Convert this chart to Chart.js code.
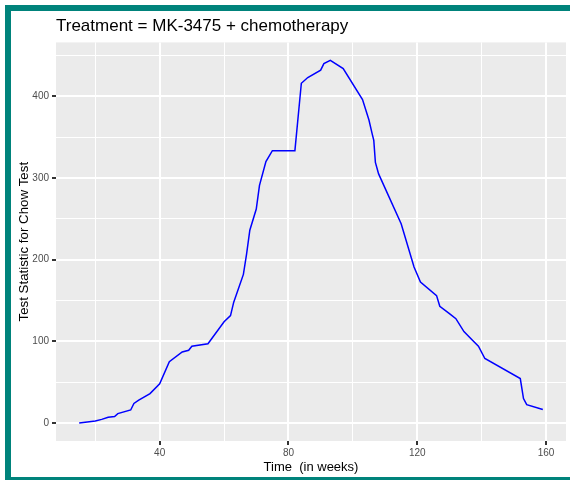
<!DOCTYPE html>
<html>
<head>
<meta charset="utf-8">
<script src="https://cdn.jsdelivr.net/npm/chart.js@4"></script>
<style>
  body { margin: 0; background: #ffffff; overflow: hidden; }
  #frame {
    position: absolute; left: 5px; top: 5px; width: 600px; height: 466px;
    border-left: 6px solid #00837b; border-top: 6px solid #00837b; border-bottom: 3px solid #00837b;
  }
  #wrap { position: absolute; left: 0; top: 0; width: 570px; height: 481px; }
</style>
</head>
<body>
<div id="frame"></div>
<div id="wrap"><canvas id="chowChart" width="570" height="481"></canvas></div>
<script>
// data
const weeks = [15, 20, 22, 24, 26, 27, 31, 32, 33.5, 37, 40, 43, 47, 49, 50, 55, 60, 62, 63, 66, 67, 68, 70, 71, 73, 75,
  82, 84, 86, 90, 91, 93, 97, 103, 105, 106, 106.5, 107, 108, 115, 119, 121, 126, 127, 130, 132, 134.5, 137, 139, 141,
  152, 153, 154, 159];
const chowStat = [0, 2.5, 4.5, 7, 8, 11.5, 16, 24, 28, 36, 48, 75, 87, 89, 94, 97, 124, 131.5, 148, 182, 207, 236, 262, 291, 320, 333.5,
  333.5, 416, 423, 432, 440, 444, 434, 396, 371, 354, 346, 319, 305, 244, 191, 172.5, 156, 143, 134, 127.7, 112, 102, 94, 79,
  54.5, 30, 22.5, 16.5];
const xTicks = [20, 40, 60, 80, 100, 120, 140, 160];
const xLabels = [40, 80, 120, 160];
const yTicks = [0, 50, 100, 150, 200, 250, 300, 350, 400, 450];
const yLabels = [0, 100, 200, 300, 400];

// grey panel behind the plot
const panelBg = {
  id: "panelBg",
  beforeDraw(chart) {
    const a = chart.chartArea;
    const ctx = chart.ctx;
    ctx.save();
    ctx.fillStyle = "#ebebeb";
    ctx.fillRect(a.left, a.top, a.right - a.left, a.bottom - a.top);
    ctx.restore();
  }
};

function createChowChart() {
  const ctx = document.getElementById("chowChart").getContext("2d");

  const data = {
    datasets: [
      {
        data: weeks.map((w, i) => ({ x: w, y: chowStat[i] })),
        borderColor: "#0000ff",
        borderWidth: 1.5,
        pointRadius: 0,
        tension: 0,
        fill: false,
      },
    ],
  };

  const config = {
    type: "line",
    data: data,
    plugins: [panelBg],
    options: {
      responsive: false,
      animation: false,
      layout: { padding: { left: 0, right: 4, top: 0, bottom: 0 } },
      plugins: {
        legend: { display: false },
        tooltip: { enabled: false },
        title: {
          display: true,
          text: "Treatment = MK-3475 + chemotherapy",
          align: "start",
          fullSize: false,
          color: "#000000",
          font: { family: "Liberation Sans", size: 17, weight: "normal" },
          padding: { top: 16, bottom: 6 },
        },
      },
      scales: {
        x: {
          type: "linear",
          min: 7.8,
          max: 166.2,
          afterBuildTicks: (axis) => { axis.ticks = xTicks.map((v) => ({ value: v })); },
          afterFit: (axis) => { axis.height = 40; },
          border: { display: false },
          grid: {
            color: "#ffffff",
            lineWidth: (c) => (xLabels.includes(c.tick.value) ? 2 : 1),
            tickColor: (c) => (xLabels.includes(c.tick.value) ? "#333333" : "rgba(0,0,0,0)"),
            tickLength: 4,
          },
          ticks: {
            autoSkip: false,
            maxRotation: 0,
            color: "#4d4d4d",
            font: { family: "Liberation Sans", size: 10 },
            padding: 2,
            callback: (v) => (xLabels.includes(v) ? String(v) : ""),
          },
          title: {
            display: true,
            text: "Time  (in weeks)",
            color: "#000000",
            font: { family: "Liberation Sans", size: 13 },
            padding: { top: 0, bottom: 6 },
          },
        },
        y: {
          type: "linear",
          min: -22,
          max: 466,
          afterBuildTicks: (axis) => { axis.ticks = yTicks.map((v) => ({ value: v })); },
          afterFit: (axis) => { axis.width = 56; },
          border: { display: false },
          grid: {
            color: "#ffffff",
            lineWidth: (c) => (yLabels.includes(c.tick.value) ? 2 : 1),
            tickColor: (c) => (yLabels.includes(c.tick.value) ? "#333333" : "rgba(0,0,0,0)"),
            tickLength: 4,
          },
          ticks: {
            autoSkip: false,
            color: "#4d4d4d",
            font: { family: "Liberation Sans", size: 10 },
            padding: 3,
            callback: (v) => (yLabels.includes(v) ? String(v) : ""),
          },
          title: {
            display: true,
            text: "Test Statistic for Chow Test",
            color: "#000000",
            font: { family: "Liberation Sans", size: 13.3 },
            padding: { top: 16, bottom: 0 },
          },
        },
      },
    },
  };

  const myChart = new Chart(ctx, config);
}

createChowChart();
</script>
</body>
</html>
